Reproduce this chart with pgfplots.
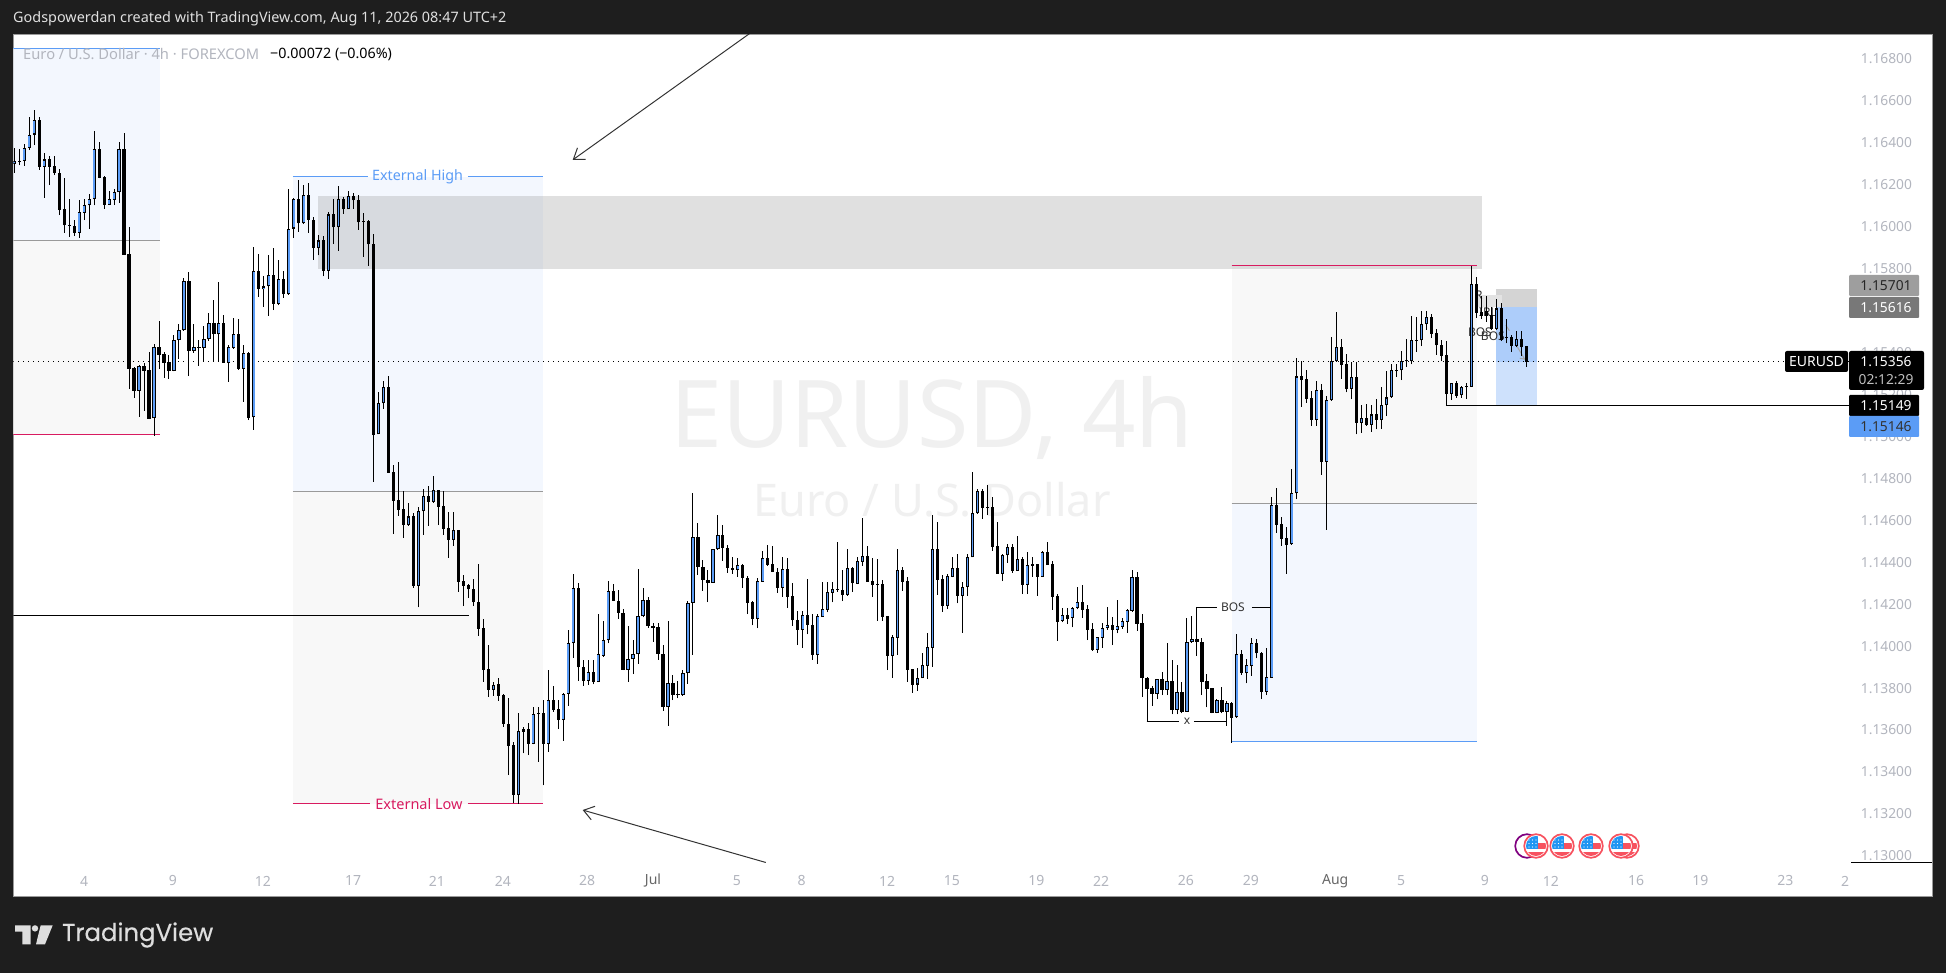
\documentclass[border=0pt]{standalone}
\usepackage{fontspec}
\usepackage{pgfplots}
\usepackage{pgfplotstable}
\pgfplotsset{compat=1.18}
\usetikzlibrary{arrows.meta}
\setmainfont{Noto Sans}
\newfontfamily\logofont[FakeBold=0.35]{Poppins}

\definecolor{frame}{HTML}{1E1E1E}
\definecolor{ticktxt}{HTML}{B2B5BE}
\definecolor{tvblue}{HTML}{5B9CF6}
\definecolor{tvpink}{HTML}{D81B60}
\definecolor{zoneblue}{HTML}{F3F7FE}
\definecolor{zonegray}{HTML}{F8F8F8}
\definecolor{midline}{HTML}{9A9A9A}
\definecolor{wmark}{HTML}{F0F0F0}
\definecolor{flagred}{HTML}{F7525F}
\definecolor{flagblue}{HTML}{2196F3}

% i open high low close
\pgfplotstableread{
i o h l c
0 1.16299 1.16376 1.16256 1.16314
1 1.16314 1.16367 1.16291 1.16311
2 1.16313 1.16391 1.16289 1.16376
3 1.16375 1.16522 1.16364 1.16438
4 1.16438 1.16557 1.16387 1.16507
5 1.16507 1.16522 1.16270 1.16284
6 1.16284 1.16348 1.16137 1.16319
7 1.16319 1.16335 1.16197 1.16284
8 1.16287 1.16335 1.16245 1.16254
9 1.16257 1.16272 1.16054 1.16078
10 1.16081 1.16229 1.15970 1.16005
11 1.16006 1.16129 1.15951 1.16003
12 1.16002 1.16033 1.15954 1.15970
13 1.15970 1.16124 1.15946 1.16067
14 1.16065 1.16129 1.16030 1.16100
15 1.16100 1.16154 1.15987 1.16129
16 1.16129 1.16453 1.16100 1.16367
17 1.16367 1.16400 1.16229 1.16232
18 1.16235 1.16240 1.16084 1.16103
19 1.16103 1.16167 1.16102 1.16129
20 1.16127 1.16178 1.16102 1.16162
21 1.16162 1.16400 1.16113 1.16367
22 1.16367 1.16443 1.15863 1.15865
23 1.15867 1.15995 1.15225 1.15322
24 1.15325 1.15328 1.15184 1.15217
25 1.15217 1.15338 1.15093 1.15335
26 1.15335 1.15351 1.15122 1.15312
27 1.15316 1.15401 1.15082 1.15084
28 1.15085 1.15439 1.15003 1.15424
29 1.15424 1.15547 1.15322 1.15389
30 1.15390 1.15401 1.15279 1.15351
31 1.15354 1.15387 1.15274 1.15312
32 1.15312 1.15482 1.15309 1.15457
33 1.15457 1.15535 1.15370 1.15505
34 1.15505 1.15752 1.15503 1.15738
35 1.15738 1.15781 1.15287 1.15408
36 1.15408 1.15535 1.15398 1.15424
37 1.15425 1.15459 1.15336 1.15422
38 1.15422 1.15525 1.15357 1.15462
39 1.15462 1.15586 1.15455 1.15538
40 1.15538 1.15649 1.15357 1.15486
41 1.15486 1.15733 1.15354 1.15538
42 1.15538 1.15576 1.15351 1.15351
43 1.15351 1.15435 1.15260 1.15424
44 1.15422 1.15562 1.15417 1.15486
45 1.15486 1.15559 1.15316 1.15322
46 1.15322 1.15433 1.15165 1.15395
47 1.15395 1.15403 1.15077 1.15089
48 1.15090 1.15900 1.15030 1.15786
49 1.15786 1.15868 1.15665 1.15700
50 1.15700 1.15763 1.15617 1.15714
51 1.15714 1.15863 1.15574 1.15767
52 1.15767 1.15895 1.15601 1.15632
53 1.15632 1.15840 1.15624 1.15748
54 1.15748 1.15787 1.15660 1.15676
55 1.15676 1.16178 1.15674 1.15990
56 1.15990 1.16135 1.15946 1.16130
57 1.16129 1.16219 1.15975 1.16014
58 1.16014 1.16197 1.16011 1.16152
59 1.16152 1.16205 1.15970 1.16033
60 1.16033 1.16043 1.15841 1.15898
61 1.15898 1.15957 1.15862 1.15933
62 1.15933 1.15954 1.15762 1.15789
63 1.15789 1.16067 1.15751 1.16057
64 1.16057 1.16130 1.15916 1.15995
65 1.15995 1.16195 1.15884 1.16133
66 1.16133 1.16141 1.16060 1.16081
67 1.16081 1.16167 1.16081 1.16146
68 1.16146 1.16160 1.16084 1.16124
69 1.16124 1.16152 1.15983 1.16019
70 1.16025 1.16062 1.15856 1.16022
71 1.16024 1.16030 1.15813 1.15914
72 1.15916 1.15964 1.14784 1.15006
73 1.15009 1.15209 1.15009 1.15157
74 1.15157 1.15263 1.15131 1.15233
75 1.15233 1.15287 1.14826 1.14826
76 1.14828 1.14863 1.14534 1.14693
77 1.14696 1.14876 1.14622 1.14649
78 1.14653 1.14739 1.14517 1.14577
79 1.14577 1.14680 1.14574 1.14618
80 1.14620 1.14633 1.14279 1.14287
81 1.14288 1.14661 1.14185 1.14642
82 1.14642 1.14747 1.14531 1.14715
83 1.14715 1.14763 1.14574 1.14688
84 1.14688 1.14811 1.14684 1.14742
85 1.14742 1.14744 1.14577 1.14665
86 1.14668 1.14739 1.14531 1.14560
87 1.14561 1.14639 1.14422 1.14507
88 1.14507 1.14639 1.14477 1.14552
89 1.14553 1.14553 1.14258 1.14307
90 1.14309 1.14339 1.14191 1.14287
91 1.14291 1.14296 1.14229 1.14271
92 1.14272 1.14320 1.14191 1.14209
93 1.14209 1.14390 1.14050 1.14083
94 1.14085 1.14128 1.13831 1.13888
95 1.13890 1.14005 1.13759 1.13793
96 1.13793 1.13831 1.13763 1.13817
97 1.13818 1.13847 1.13740 1.13764
98 1.13766 1.13770 1.13616 1.13631
99 1.13631 1.13751 1.13385 1.13526
100 1.13527 1.13542 1.13254 1.13292
101 1.13292 1.13680 1.13248 1.13594
102 1.13593 1.13613 1.13489 1.13604
103 1.13604 1.13635 1.13481 1.13535
104 1.13535 1.13712 1.13532 1.13675
105 1.13680 1.13712 1.13450 1.13677
106 1.13680 1.13743 1.13337 1.13535
107 1.13535 1.13886 1.13497 1.13742
108 1.13743 1.13810 1.13688 1.13696
109 1.13699 1.13743 1.13605 1.13650
110 1.13650 1.13775 1.13548 1.13772
111 1.13772 1.14077 1.13715 1.14013
112 1.14013 1.14344 1.13945 1.14275
113 1.14275 1.14299 1.13836 1.13899
114 1.13899 1.13934 1.13812 1.13836
115 1.13836 1.13932 1.13817 1.13875
116 1.13875 1.13932 1.13818 1.13828
117 1.13828 1.14152 1.13828 1.13961
118 1.13954 1.14120 1.13950 1.14028
119 1.14028 1.14309 1.14013 1.14261
120 1.14261 1.14295 1.14215 1.14217
121 1.14217 1.14266 1.14131 1.14160
122 1.14160 1.14175 1.13886 1.13888
123 1.13888 1.14096 1.13831 1.13937
124 1.13937 1.14029 1.13867 1.13961
125 1.13961 1.14368 1.13917 1.14142
126 1.14142 1.14275 1.14137 1.14218
127 1.14218 1.14233 1.14088 1.14098
128 1.14098 1.14109 1.14020 1.14086
129 1.14090 1.14109 1.13934 1.13964
130 1.13964 1.14004 1.13691 1.13710
131 1.13710 1.14120 1.13620 1.13823
132 1.13823 1.13861 1.13743 1.13769
133 1.13770 1.13834 1.13751 1.13767
134 1.13767 1.13885 1.13764 1.13871
135 1.13871 1.14214 1.13820 1.14206
136 1.14206 1.14728 1.13958 1.14518
137 1.14518 1.14587 1.14339 1.14379
138 1.14379 1.14410 1.14263 1.14317
139 1.14317 1.14363 1.14210 1.14302
140 1.14302 1.14463 1.14302 1.14461
141 1.14461 1.14625 1.14458 1.14528
142 1.14528 1.14577 1.14406 1.14469
143 1.14469 1.14482 1.14349 1.14374
144 1.14374 1.14425 1.14344 1.14363
145 1.14363 1.14418 1.14331 1.14385
146 1.14385 1.14390 1.14277 1.14326
147 1.14326 1.14333 1.14153 1.14207
148 1.14209 1.14215 1.14099 1.14131
149 1.14131 1.14323 1.14086 1.14309
150 1.14307 1.14453 1.14306 1.14418
151 1.14418 1.14480 1.14382 1.14387
152 1.14390 1.14476 1.14353 1.14355
153 1.14355 1.14371 1.14255 1.14279
154 1.14279 1.14425 1.14236 1.14366
155 1.14366 1.14418 1.14183 1.14236
156 1.14238 1.14299 1.14096 1.14123
157 1.14123 1.14167 1.14005 1.14078
158 1.14078 1.14167 1.13993 1.14147
159 1.14147 1.14320 1.14056 1.14102
160 1.14102 1.14152 1.13934 1.13959
161 1.13959 1.14152 1.13915 1.14142
162 1.14140 1.14304 1.14140 1.14175
163 1.14173 1.14304 1.14161 1.14256
164 1.14255 1.14304 1.14209 1.14271
165 1.14271 1.14495 1.14260 1.14268
166 1.14266 1.14363 1.14215 1.14245
167 1.14245 1.14463 1.14241 1.14371
168 1.14371 1.14377 1.14258 1.14299
169 1.14298 1.14425 1.14296 1.14404
170 1.14402 1.14609 1.14383 1.14428
171 1.14428 1.14477 1.14307 1.14307
172 1.14309 1.14418 1.14236 1.14293
173 1.14295 1.14414 1.14120 1.14292
174 1.14295 1.14315 1.14120 1.14140
175 1.14142 1.14142 1.13886 1.13955
176 1.13955 1.14053 1.13850 1.14042
177 1.14040 1.14463 1.13958 1.14363
178 1.14363 1.14375 1.14263 1.14307
179 1.14309 1.14331 1.13831 1.13888
180 1.13890 1.13890 1.13778 1.13817
181 1.13817 1.13894 1.13788 1.13847
182 1.13846 1.13966 1.13846 1.13909
183 1.13907 1.14061 1.13845 1.13994
184 1.13993 1.14623 1.13902 1.14461
185 1.14461 1.14590 1.14244 1.14317
186 1.14320 1.14339 1.14164 1.14193
187 1.14193 1.14342 1.14177 1.14334
188 1.14331 1.14423 1.14328 1.14371
189 1.14371 1.14439 1.14204 1.14241
190 1.14241 1.14304 1.14064 1.14283
191 1.14283 1.14439 1.14241 1.14423
192 1.14423 1.14828 1.14423 1.14633
193 1.14633 1.14749 1.14630 1.14739
194 1.14739 1.14749 1.14606 1.14660
195 1.14661 1.14768 1.14625 1.14658
196 1.14661 1.14712 1.14455 1.14474
197 1.14477 1.14593 1.14344 1.14345
198 1.14345 1.14439 1.14310 1.14434
199 1.14432 1.14485 1.14398 1.14471
200 1.14471 1.14487 1.14350 1.14360
201 1.14360 1.14525 1.14360 1.14414
202 1.14414 1.14423 1.14248 1.14293
203 1.14293 1.14449 1.14248 1.14385
204 1.14391 1.14423 1.14331 1.14383
205 1.14390 1.14391 1.14241 1.14331
206 1.14331 1.14455 1.14331 1.14449
207 1.14449 1.14496 1.14388 1.14388
208 1.14391 1.14406 1.14174 1.14236
209 1.14238 1.14247 1.14025 1.14117
210 1.14119 1.14183 1.14113 1.14147
211 1.14147 1.14183 1.14105 1.14131
212 1.14133 1.14185 1.14090 1.14180
213 1.14180 1.14280 1.14175 1.14209
214 1.14209 1.14291 1.14133 1.14174
215 1.14175 1.14196 1.14029 1.14078
216 1.14080 1.14109 1.13979 1.13982
217 1.13982 1.14045 1.13969 1.14042
218 1.14040 1.14109 1.13993 1.14085
219 1.14085 1.14188 1.14077 1.14099
220 1.14099 1.14137 1.14005 1.14078
221 1.14078 1.14220 1.14061 1.14094
222 1.14092 1.14133 1.14082 1.14118
223 1.14117 1.14175 1.14064 1.14171
224 1.14169 1.14363 1.14164 1.14328
225 1.14328 1.14352 1.14074 1.14107
226 1.14109 1.14152 1.13759 1.13850
227 1.13850 1.13855 1.13696 1.13797
228 1.13799 1.13810 1.13716 1.13774
229 1.13774 1.13845 1.13748 1.13842
230 1.13842 1.13877 1.13767 1.13793
231 1.13793 1.14013 1.13767 1.13832
232 1.13832 1.13932 1.13675 1.13697
233 1.13697 1.13910 1.13675 1.13780
234 1.13780 1.13831 1.13680 1.13686
235 1.13688 1.14133 1.13688 1.14018
236 1.14018 1.14145 1.14016 1.14036
237 1.14036 1.14185 1.13955 1.14021
238 1.14021 1.14037 1.13767 1.13831
239 1.13832 1.13867 1.13708 1.13797
240 1.13799 1.13802 1.13680 1.13683
241 1.13683 1.13747 1.13680 1.13742
242 1.13742 1.13804 1.13680 1.13686
243 1.13686 1.13739 1.13621 1.13728
244 1.13728 1.13733 1.13540 1.13659
245 1.13661 1.14058 1.13659 1.13961
246 1.13961 1.13982 1.13863 1.13871
247 1.13871 1.13937 1.13823 1.13909
248 1.13907 1.14037 1.13859 1.14013
249 1.14013 1.14034 1.13942 1.13966
250 1.13966 1.13971 1.13748 1.13783
251 1.13783 1.13990 1.13767 1.13851
252 1.13850 1.14709 1.13850 1.14672
253 1.14671 1.14752 1.14541 1.14579
254 1.14580 1.14617 1.14479 1.14512
255 1.14514 1.14569 1.14344 1.14482
256 1.14485 1.14844 1.14482 1.14728
257 1.14728 1.15371 1.14699 1.15285
258 1.15285 1.15357 1.15141 1.15268
259 1.15273 1.15316 1.15160 1.15179
260 1.15181 1.15217 1.15050 1.15079
261 1.15079 1.15263 1.15050 1.15219
262 1.15219 1.15249 1.14817 1.14879
263 1.14879 1.15192 1.14555 1.15171
264 1.15171 1.15473 1.15169 1.15357
265 1.15357 1.15592 1.15355 1.15424
266 1.15424 1.15462 1.15274 1.15341
267 1.15343 1.15390 1.15209 1.15227
268 1.15227 1.15354 1.15176 1.15281
269 1.15281 1.15354 1.15009 1.15065
270 1.15065 1.15149 1.15017 1.15085
271 1.15085 1.15152 1.15050 1.15055
272 1.15055 1.15149 1.15022 1.15104
273 1.15104 1.15176 1.15033 1.15079
274 1.15079 1.15235 1.15036 1.15147
275 1.15147 1.15311 1.15096 1.15185
276 1.15185 1.15344 1.15184 1.15314
277 1.15314 1.15344 1.15284 1.15311
278 1.15314 1.15405 1.15268 1.15360
279 1.15362 1.15465 1.15331 1.15357
280 1.15357 1.15573 1.15343 1.15457
281 1.15459 1.15570 1.15401 1.15455
282 1.15457 1.15595 1.15430 1.15533
283 1.15533 1.15595 1.15508 1.15568
284 1.15568 1.15582 1.15468 1.15489
285 1.15491 1.15512 1.15389 1.15433
286 1.15433 1.15459 1.15358 1.15382
287 1.15385 1.15454 1.15147 1.15201
288 1.15203 1.15254 1.15174 1.15254
289 1.15254 1.15262 1.15184 1.15193
290 1.15195 1.15238 1.15184 1.15233
291 1.15239 1.15254 1.15177 1.15236
292 1.15236 1.15811 1.15236 1.15728
293 1.15728 1.15757 1.15565 1.15589
294 1.15593 1.15668 1.15560 1.15574
295 1.15598 1.15668 1.15546 1.15573
296 1.15578 1.15617 1.15506 1.15511
297 1.15511 1.15652 1.15506 1.15609
298 1.15609 1.15636 1.15454 1.15459
299 1.15471 1.15557 1.15443 1.15468
300 1.15474 1.15482 1.15403 1.15432
301 1.15430 1.15503 1.15424 1.15462
302 1.15462 1.15501 1.15382 1.15424
303 1.15432 1.15432 1.15331 1.15355
}\candles

% fill, x1, x2, y1, y2
\newcommand{\zone}[5]{\addplot[draw=none,fill=#1] coordinates {(#2,#4) (#3,#4) (#3,#5) (#2,#5)} --cycle;}
% colour, width, x1, x2, y
\newcommand{\hseg}[5]{\addplot[#1,line width=#2] coordinates {(#3,#5) (#4,#5)};}
% page coordinates: fill, text colour, x1, y1, x2, y2, text
\newcommand{\pricebox}[7]{%
  \fill[#1,rounded corners=1pt] (#3,#4) rectangle (#5,#6);
  \node[text=#2,font=\fontsize{13.8}{13.8}\selectfont,anchor=center] at (1886,{(#4+#6)/2}) {#7};}
\newcommand{\usflag}[2]{%
  \begin{scope}[shift={(#1,#2)}]
    \fill[white] (0,0) circle (12);
    \begin{scope}
      \clip (0,0) circle (10);
      \fill[flagred] (2,-3) rectangle (11,3);
      \fill[flagred] (-11,6) rectangle (11,11);
      \fill[flagblue] (-11,-10) rectangle (2,3);
      \foreach \dx in {-7,-3.5,0} \foreach \dy in {-6,-2.5,1} \fill[white] (\dx,\dy) circle (0.6);
    \end{scope}
    \draw[flagred,line width=1.7pt] (0,0) circle (11.8);
  \end{scope}}

\begin{document}
\begin{tikzpicture}
\path[use as bounding box,fill=frame] (0,0) rectangle (1946pt,973pt);
\begin{axis}[
  at={(13.3pt,76pt)}, anchor=south west,
  scale only axis, width=1918.7pt, height=862.4pt,
  xmin=-0.2, xmax=384.3, ymin=1.128046, ymax=1.169142,
  axis background/.style={fill=white},
  axis line style={draw=midline,line width=1pt},
  major tick length=0pt,
  xtick pos=bottom, ytick pos=right,
  xtick={14,31.8,49.8,67.9,84.7,97.9,114.8,128,144.8,157.8,174.9,187.9,204.8,217.8,234.8,247.8,264.7,277.9,294.7,307.9,325,337.9,354.9,366.9},
  xticklabels={4,9,12,17,21,24,28,{\bfseries\color{black!60}Jul},5,8,12,15,19,22,26,29,{\bfseries\color{black!60}Aug},5,9,12,16,19,23,2},
  ytick={1.130,1.132,1.134,1.136,1.138,1.140,1.142,1.144,1.146,1.148,1.150,1.152,1.154,1.156,1.158,1.160,1.162,1.164,1.166,1.168},
  scaled y ticks=false,
  yticklabel style={/pgf/number format/fixed,/pgf/number format/fixed zerofill,/pgf/number format/precision=5,/pgf/number format/assume math mode=true},
  every x tick label/.append style={anchor=center,yshift=16pt,text=ticktxt,font=\fontsize{14}{14}\selectfont},
  every y tick label/.append style={anchor=east,xshift=-16.5pt,text=ticktxt,font=\fontsize{13.8}{13.8}\selectfont},
  clip mode=individual,
]
% drawn zones
\zone{zoneblue}{-0.2}{29.2}{1.16849}{1.15931}
\zone{zonegray}{-0.2}{29.2}{1.15931}{1.15010}
\zone{zoneblue}{55.85}{106}{1.16236}{1.14738}
\zone{zonegray}{55.85}{106}{1.14738}{1.13248}
\zone{zonegray}{243.97}{293.06}{1.15812}{1.14681}
\zone{zoneblue}{243.97}{293.06}{1.14681}{1.13545}
\addplot[draw=none,fill=gray!80,fill opacity=0.3] coordinates {(60.8,1.16145) (294.07,1.16145) (294.07,1.15799) (60.8,1.15799)} --cycle;
\zone{black!17}{296.9}{305.1}{1.15700}{1.15616}
\zone{black!11}{293.1}{298.1}{1.15673}{1.15616}
\zone{tvblue!50}{296.9}{305.1}{1.15616}{1.15356}
\zone{tvblue!30}{296.9}{305.1}{1.15356}{1.15148}

\node[text=wmark,font=\fontsize{93.5}{93.5}\selectfont] at (axis cs:183.9,1.15087) {EURUSD, 4h};
\node[text=wmark,font=\fontsize{45}{45}\selectfont] at (axis cs:183.9,1.14696) {Euro / U.S. Dollar};

% lines
\hseg{tvblue}{1pt}{-0.2}{29.2}{1.16849}
\hseg{midline}{1pt}{-0.2}{29.2}{1.15931}
\hseg{tvpink}{1pt}{-0.2}{29.2}{1.15010}
\hseg{tvblue}{1pt}{55.85}{70.9}{1.16236}
\hseg{tvblue}{1pt}{90.9}{106}{1.16236}
\hseg{midline}{1pt}{55.85}{106}{1.14738}
\hseg{tvpink}{1pt}{55.85}{71.3}{1.13248}
\hseg{tvpink}{1pt}{90.9}{106}{1.13248}
\hseg{tvpink}{1pt}{243.97}{293.06}{1.15812}
\hseg{midline}{1pt}{243.97}{293.06}{1.14681}
\hseg{tvblue}{1pt}{243.97}{293.06}{1.13545}
\hseg{black}{1pt}{-0.2}{91.06}{1.14147}
\hseg{black}{1pt}{286.9}{368.1}{1.15149}
\hseg{black}{1pt}{368.1}{384.3}{1.12971}
\addplot[black,line width=1pt,dash pattern=on 1pt off 4pt] coordinates {(-0.2,1.15356) (368.1,1.15356)};
\hseg{black}{1pt}{237}{241}{1.14185}
\hseg{black}{1pt}{248}{252}{1.14185}
\hseg{black}{1pt}{226.9}{233.4}{1.13643}
\hseg{black}{1pt}{236.4}{243}{1.13643}
\addplot[black,line width=1pt] coordinates {(227,1.13643) (227,1.13797)};

% arrows
\addplot[black!80,line width=1pt,-{Straight Barb[length=10pt,width=14pt]}] coordinates {(147.4,1.16920) (111.9,1.16317)};
\addplot[black!80,line width=1pt,-{Straight Barb[length=10pt,width=14pt]}] coordinates {(150.6,1.12969) (113.9,1.13219)};
\addplot[gray!70,line width=1pt] coordinates {(298.9,1.15530) (299.6,1.15503)};
\addplot[gray!70,line width=1pt] coordinates {(301.1,1.15430) (302.7,1.15367) (301.7,1.15372)};

% annotation text
\node[text=tvblue,font=\fontsize{14.3}{14.3}\selectfont] at (axis cs:80.8,1.16236) {External High};
\node[text=tvpink,font=\fontsize{14.5}{14.5}\selectfont] at (axis cs:81.1,1.13248) {External Low};
\node[text=black!80,font=\fontsize{12}{12}\selectfont] at (axis cs:244.2,1.14185) {BOS};
\node[text=black!80,font=\fontsize{12}{12}\selectfont] at (axis cs:235,1.13643) {x};
\node[text=black!80,font=\fontsize{12}{12}\selectfont] at (axis cs:293.7,1.15497) {BOS};
\node[text=black!80,font=\fontsize{12}{12}\selectfont] at (axis cs:296.3,1.15478) {BOS};
\node[text=black!80,font=\fontsize{12}{12}\selectfont] at (axis cs:295.3,1.15592) {IRL};
\node[text=black!80,font=\fontsize{12}{12}\selectfont] at (axis cs:293.5,1.15673) {R};

% candles: wicks, bodies, blue inside of the rising ones
\addplot[draw=none,error bars/.cd,y dir=plus,y explicit,error mark=none,
  error bar style={draw=black,line width=1pt}]
  table[x=i,y=l,y error expr=\thisrow{h}-\thisrow{l}] {\candles};
\addplot[draw=none,error bars/.cd,y dir=plus,y explicit,error mark=none,
  error bar style={draw=black,line width=3.2pt}]
  table[x=i,y expr={min(\thisrow{o},\thisrow{c})},y error expr={abs(\thisrow{c}-\thisrow{o})}] {\candles};
\addplot[draw=none,error bars/.cd,y dir=plus,y explicit,error mark=none,
  error bar style={draw=tvblue,line width=1.6pt}]
  table[x expr={\thisrow{c}-\thisrow{o}>0.00012 ? \thisrow{i} : nan},
        y expr={\thisrow{o}+0.00005},y error expr={\thisrow{c}-\thisrow{o}-0.0001}] {\candles};
\end{axis}

% frame text and scale labels, page coordinates in pixels
\begin{scope}[x=1pt,y=-1pt,yshift=973pt]
  \node[anchor=west,inner sep=0pt,text=black!12,font=\fontsize{14.4}{14.4}\selectfont] at (13,19) {Godspowerdan created with TradingView.com, Aug 11, 2026 08:47 UTC+2};
  \node[anchor=west,inner sep=0pt,text=ticktxt,font=\fontsize{14.7}{14.7}\selectfont] at (23,54) {Euro / U.S. Dollar · 4h · FOREXCOM};
  \node[anchor=west,inner sep=0pt,text=black,font=\fontsize{14.3}{14.3}\selectfont] at (270,54) {−0.00072 (−0.06\%)};

  \pricebox{black!38}{black!85}{1849}{275}{1919}{296}{1.15701}
  \pricebox{black!53}{white}{1849}{297}{1919}{318}{1.15616}
  \fill[black,rounded corners=2pt] (1785,351) rectangle (1848,372);
  \node[text=white,font=\fontsize{14}{14}\selectfont] at (1816.5,361.5) {EURUSD};
  \fill[black,rounded corners=2pt] (1849,351) rectangle (1924,390);
  \node[text=white,font=\fontsize{13.8}{13.8}\selectfont] at (1886,362) {1.15356};
  \node[text=white!75!black,font=\fontsize{13.8}{13.8}\selectfont] at (1886,380) {02:12:29};
  \pricebox{black}{white}{1849}{395}{1919}{416}{1.15149}
  \pricebox{tvblue}{black!80}{1849}{416}{1919}{437}{1.15146}

  \draw[violet,line width=1.7pt,fill=white] (1527,846) circle (11.8);
  \usflag{1627}{846}
  \usflag{1621}{846}
  \usflag{1591}{846}
  \usflag{1562}{846}
  \usflag{1536}{846}

  \fill[black!13] (15,925.3) -- (30.7,925.3) -- (30.7,944.3) -- (22.3,944.3) -- (22.3,931.7) -- (15,931.7) -- cycle;
  \fill[black!13] (35,928.4) circle (3.2);
  \fill[black!13] (40.7,925.3) -- (52.7,925.3) -- (45,944.3) -- (36,944.3) -- cycle;
  \node[anchor=west,inner sep=0pt,text=black!13,font=\logofont\fontsize{24.4}{24.4}\selectfont] at (62,935) {TradingView};
\end{scope}
\end{tikzpicture}
\end{document}
